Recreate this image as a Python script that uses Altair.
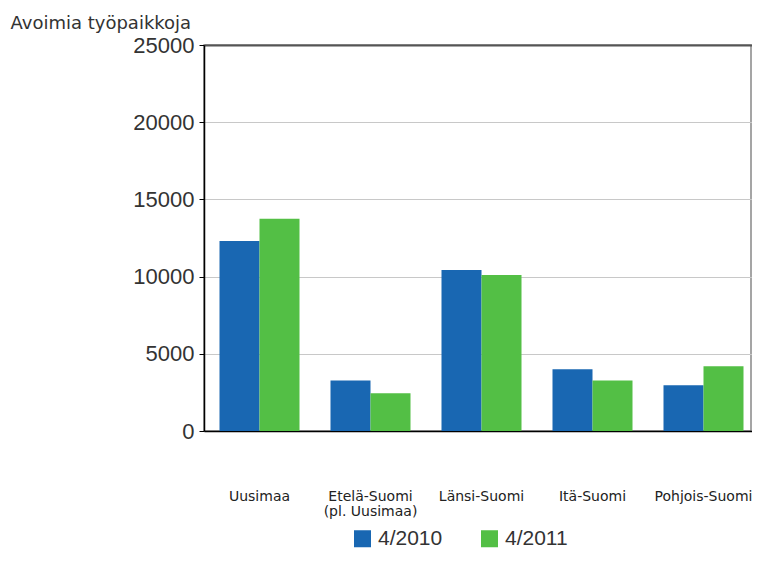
import altair as alt
import pandas as pd

regions = ["Uusimaa", "Etelä-Suomi\n(pl. Uusimaa)", "Länsi-Suomi", "Itä-Suomi", "Pohjois-Suomi"]
periods = ["4/2010", "4/2011"]
values_2010 = [12300, 3270, 10430, 4000, 2960]
values_2011 = [13750, 2450, 10110, 3270, 4200]
colors = ["#1967b2", "#53bf45"]
y_ticks = [0, 5000, 10000, 15000, 20000, 25000]

rows = []
for r, a, b in zip(regions, values_2010, values_2011):
    rows.append({"region": r, "period": periods[0], "value": a})
    rows.append({"region": r, "period": periods[1], "value": b})
df = pd.DataFrame(rows)

FONT = "Liberation Sans"
WIDE = "DejaVu Sans"

chart = alt.Chart(df).mark_bar().encode(
    x=alt.X(
        "region:N",
        sort=regions,
        scale=alt.Scale(paddingInner=0, paddingOuter=0, range=[0, 555]),
        axis=alt.Axis(
            title=None,
            labelAngle=0,
            labelExpr="split(datum.label, '\\n')",
            labelFont=WIDE,
            labelFontSize=14,
            labelColor="#222222",
            labelBaseline="alphabetic",
            labelPadding=69,
            labelLineHeight=15,
            ticks=False,
            tickSize=0,
            domainColor="#000000",
            domainWidth=1.5,
            grid=False,
        ),
    ),
    xOffset=alt.XOffset(
        "period:N",
        sort=periods,
        scale=alt.Scale(paddingInner=0, paddingOuter=0.3875),
    ),
    y=alt.Y(
        "value:Q",
        scale=alt.Scale(domain=[0, 25000], nice=False),
        axis=alt.Axis(
            values=y_ticks,
            format="d",
            title="Avoimia työpaikkoja",
            titleAngle=0,
            titleAlign="left",
            titleBaseline="alphabetic",
            titleX=-194,
            titleY=-17,
            titleFont=WIDE,
            titleFontSize=18,
            titleFontWeight="normal",
            titleColor="#333333",
            labelFont=FONT,
            labelFontSize=22,
            labelColor="#333333",
            labelPadding=5,
            tickSize=5,
            tickColor="#000000",
            domainColor="#000000",
            domainWidth=1.5,
            gridColor=alt.condition("datum.value == 25000", alt.value("#555555"), alt.value("#c8c8c8")),
            gridWidth=alt.condition("datum.value == 25000", alt.value(2), alt.value(1.2)),
        ),
    ),
    color=alt.Color(
        "period:N",
        sort=periods,
        scale=alt.Scale(domain=periods, range=colors),
        legend=alt.Legend(
            title=None,
            orient="none",
            legendX=148,
            legendY=483,
            direction="horizontal",
            symbolType="square",
            symbolSize=289,
            symbolStrokeWidth=0,
            symbolOpacity=1,
            labelFont=FONT,
            labelFontSize=21,
            labelColor="#333333",
            labelOffset=5,
            columnPadding=36,
            padding=0,
        ),
    ),
).properties(
    width=547,
    height=386,
    padding={"left": 196, "top": 37, "right": 1, "bottom": 122},
    autosize=alt.AutoSizeParams(type="none"),
).configure(
    font=FONT,
).configure_view(
    stroke="#888888",
    strokeWidth=1.5,
)

chart.save("out.html", embed_options={"renderer": "svg", "actions": False})
